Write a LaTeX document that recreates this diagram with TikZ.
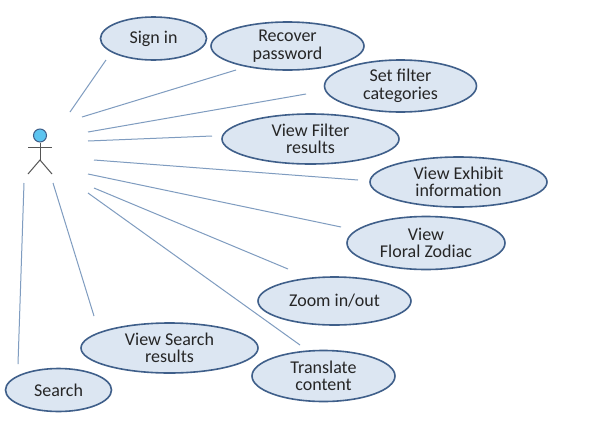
\documentclass[tikz,border=0pt]{standalone}
\usepackage{fontspec}
\setmainfont{Carlito}
\usetikzlibrary{shapes.geometric}
\definecolor{ucfill}{HTML}{DCE6F2}
\definecolor{ucline}{HTML}{3F5F8A}
\definecolor{linkc}{HTML}{7F9CC0}
\definecolor{headc}{HTML}{5CC4F0}
\definecolor{actorc}{HTML}{555555}
\begin{document}
\begin{tikzpicture}[x=1pt,y=-1pt,
  usecase/.style={ellipse,draw=ucline,line width=1.6pt,fill=ucfill,minimum width=#1,align=center,inner sep=0pt,font=\fontsize{18}{17.5}\selectfont,text=black!85},
  link/.style={draw=linkc,line width=1pt},
  limb/.style={draw=actorc,line width=1pt}]
\useasboundingbox (0,0) rectangle (593,442);
\fill[white] (0,0) rectangle (593,442);
\node[usecase=106pt,minimum height=43pt] (signin) at (153.5,38.5) {Sign in};
\node[usecase=153pt,minimum height=48pt] (recover) at (287.5,46) {Recover\\password};
\node[usecase=152pt,minimum height=52pt] (setfilter) at (400.5,86) {Set filter\\categories};
\node[usecase=177pt,minimum height=50pt] (viewfilter) at (310.5,139) {View Filter\\results};
\node[usecase=177pt,minimum height=50pt] (exhibit) at (458.5,182) {View Exhibit\\information};
\node[usecase=158pt,minimum height=53pt] (floral) at (426,243) {View\\Floral Zodiac};
\node[usecase=153pt,minimum height=48pt] (zoom) at (334.5,301) {Zoom in/out};
\node[usecase=143pt,minimum height=51pt] (translate) at (323.5,376) {Translate\\content};
\node[usecase=177pt,minimum height=50pt] (viewsearch) at (169.5,348) {View Search\\results};
\node[usecase=106pt,minimum height=43pt] (search) at (58.5,390) {Search};
% actor
\node[circle,draw=ucline,line width=1pt,fill=headc,minimum size=13pt,inner sep=0pt] (head) at (40,135.5) {};
\coordinate (hip) at (40,160);
\coordinate (armL) at (28,147);
\coordinate (armR) at (52,147);
\coordinate (legL) at (28,174);
\coordinate (legR) at (52,174);
\draw[limb] (head) -- (hip);
\draw[limb] (armL) -- (armR);
\draw[limb] (legL) -- (hip) -- (legR);
% connector ends
\foreach \n/\ax/\ay/\bx/\by in {signin/70/112/106/60, recover/82/117/236/70, setfilter/88/132/306/94, viewfilter/88/141/212/136, exhibit/94/160/358/180, floral/88/174/341/227, zoom/94/188/288/269, translate/88/193/300/345, viewsearch/53/183/94/316, search/24/183/18/364}{
  \coordinate (a-\n) at (\ax,\ay);
  \coordinate (b-\n) at (\bx,\by);
  \draw[link] (a-\n) -- (b-\n);
}
\end{tikzpicture}
\end{document}
